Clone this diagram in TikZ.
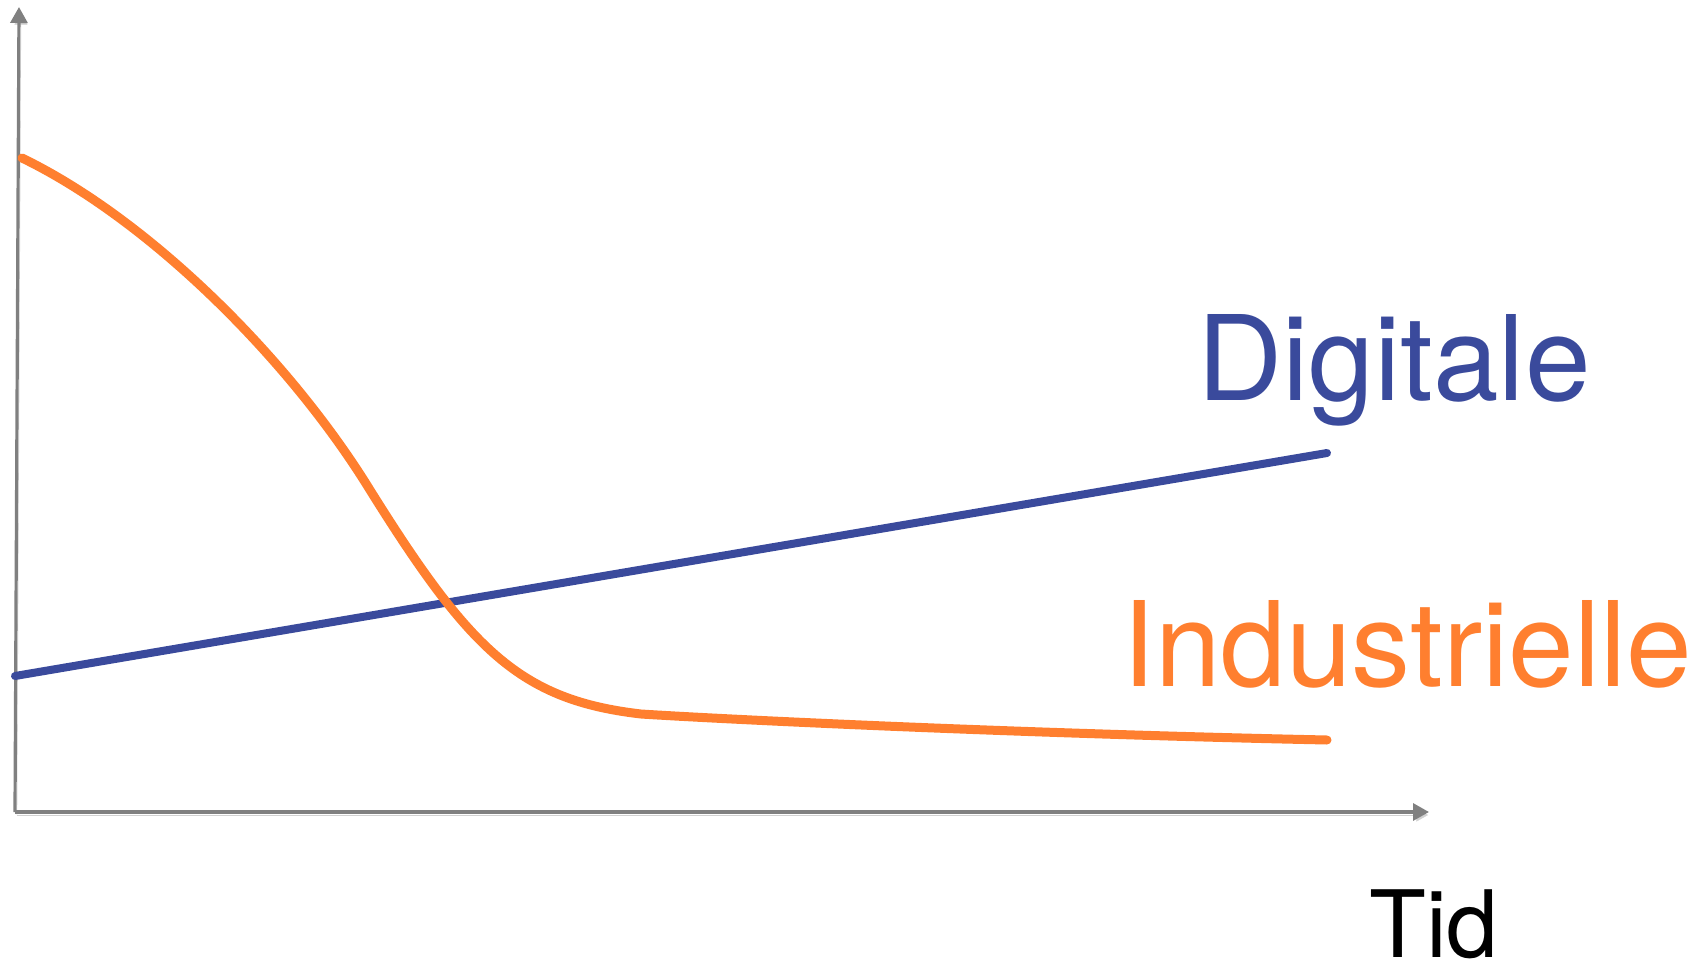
\documentclass[tikz,border=0pt]{standalone}
\usepackage{fontspec}
\setmainfont{TeX Gyre Heros}
\usetikzlibrary{arrows.meta}

\definecolor{digiblue}{HTML}{3A4A9C}
\definecolor{induorange}{HTML}{FF7F2F}
\definecolor{axisgray}{HTML}{808080}

\tikzset{
  shadowed/.style={preaction={draw=black!18, transform canvas={shift={(2pt,-3pt)}}}},
  axisline/.style={draw=axisgray, line width=3.2pt, -{Triangle[length=16pt, width=17pt]}, shadowed},
  curveline/.style={line width=#1, line cap=round, line join=round, shadowed},
  textlabel/.style={anchor=base west, inner sep=0pt}
}

\begin{document}
\begin{tikzpicture}[x=1pt, y=-1pt]
        \useasboundingbox (0,0) rectangle (1703,966);
        % axes
        \coordinate (origin) at (15, 812);
        \coordinate (ytop) at (19, 7);
        \coordinate (xend) at (1429, 812);
        \draw[axisline] (origin) -- (ytop);
        \draw[axisline] (origin) -- (xend);
        % digital line
        \coordinate (dstart) at (15, 676);
        \coordinate (dend) at (1327, 453);
        \draw[curveline=8pt, digiblue] (dstart) -- (dend);
        % industrial curve
        \coordinate (istart) at (22, 158);
        \coordinate (ibend) at (370, 490);
        \coordinate (iknee) at (641, 714);
        \coordinate (iend) at (1327, 740);
        \draw[curveline=9pt, induorange] (istart)
            .. controls (150, 220) and (290, 360) .. (ibend)
            .. controls (470, 650) and (520, 700) .. (iknee)
            .. controls (720, 719) and (1000, 733) .. (iend);
        % labels
        \node[textlabel, text=digiblue, font=\fontsize{118}{118}\selectfont] (digital) at (1197, 400) {Digitale};
        \node[textlabel, text=induorange, font=\fontsize{118}{118}\selectfont] (industrial) at (1122, 686) {Industrielle};
        \node[textlabel, font=\fontsize{93}{93}\selectfont] (time) at (1369, 957) {Tid};
\end{tikzpicture}
\end{document}
